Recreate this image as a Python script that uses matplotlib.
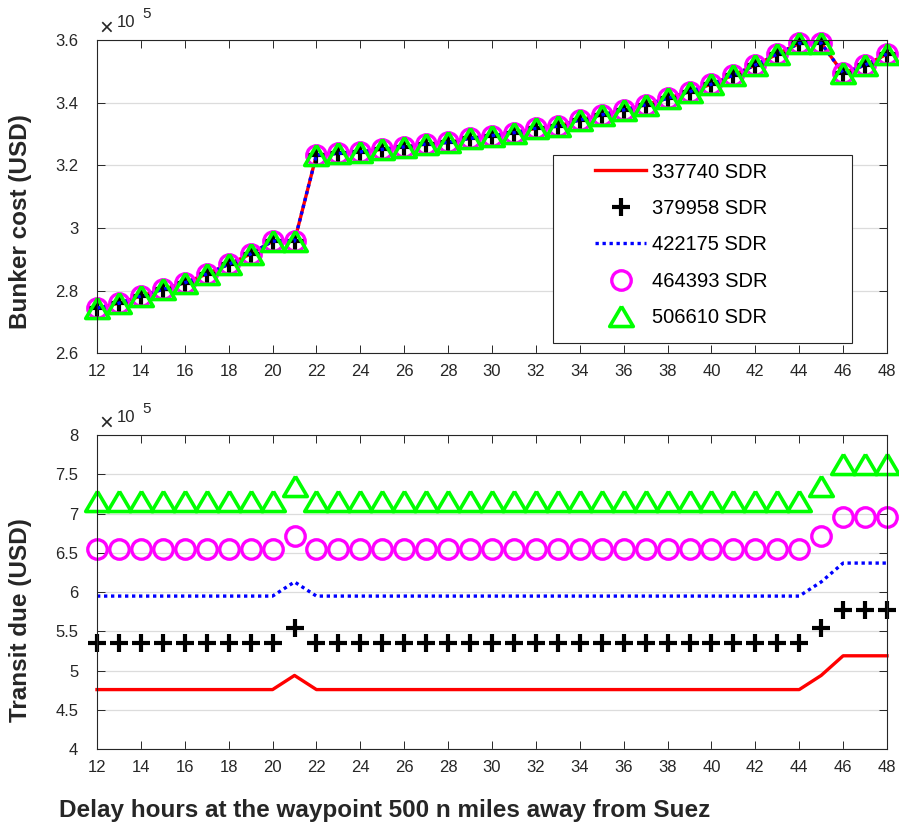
import matplotlib
matplotlib.use('Agg')
import matplotlib.pyplot as plt
from matplotlib.ticker import FuncFormatter
from matplotlib.patches import Rectangle

plt.rcParams['font.family'] = ['Liberation Sans', 'DejaVu Sans']

# ---------------- data (values in units of 1e5 USD) ----------------
hours = [12, 13, 14, 15, 16, 17, 18, 19, 20, 21, 22, 23, 24, 25, 26, 27, 28, 29, 30,
         31, 32, 33, 34, 35, 36, 37, 38, 39, 40, 41, 42, 43, 44, 45, 46, 47, 48]

series_labels = ['337740 SDR', '379958 SDR', '422175 SDR', '464393 SDR', '506610 SDR']

# Bunker cost (identical for all five SDR levels)
bunker = [2.744, 2.760, 2.783, 2.804, 2.825, 2.853, 2.884, 2.917, 2.958, 2.958,
          3.233, 3.238, 3.243, 3.251, 3.259, 3.268, 3.273, 3.286, 3.295, 3.304,
          3.318, 3.325, 3.345, 3.361, 3.377, 3.393, 3.414, 3.435, 3.459, 3.488,
          3.520, 3.555, 3.589, 3.590, 3.494, 3.520, 3.555]

transit_337740 = [4.76, 4.76, 4.76, 4.76, 4.76, 4.76, 4.76, 4.76, 4.76, 4.94,
                  4.76, 4.76, 4.76, 4.76, 4.76, 4.76, 4.76, 4.76, 4.76, 4.76,
                  4.76, 4.76, 4.76, 4.76, 4.76, 4.76, 4.76, 4.76, 4.76, 4.76,
                  4.76, 4.76, 4.76, 4.94, 5.19, 5.19, 5.19]
transit_379958 = [5.35, 5.35, 5.35, 5.35, 5.35, 5.35, 5.35, 5.35, 5.35, 5.54,
                  5.35, 5.35, 5.35, 5.35, 5.35, 5.35, 5.35, 5.35, 5.35, 5.35,
                  5.35, 5.35, 5.35, 5.35, 5.35, 5.35, 5.35, 5.35, 5.35, 5.35,
                  5.35, 5.35, 5.35, 5.54, 5.77, 5.77, 5.77]
transit_422175 = [5.95, 5.95, 5.95, 5.95, 5.95, 5.95, 5.95, 5.95, 5.95, 6.13,
                  5.95, 5.95, 5.95, 5.95, 5.95, 5.95, 5.95, 5.95, 5.95, 5.95,
                  5.95, 5.95, 5.95, 5.95, 5.95, 5.95, 5.95, 5.95, 5.95, 5.95,
                  5.95, 5.95, 5.95, 6.13, 6.37, 6.37, 6.37]
transit_464393 = [6.545, 6.545, 6.545, 6.545, 6.545, 6.545, 6.545, 6.545, 6.545, 6.715,
                  6.545, 6.545, 6.545, 6.545, 6.545, 6.545, 6.545, 6.545, 6.545, 6.545,
                  6.545, 6.545, 6.545, 6.545, 6.545, 6.545, 6.545, 6.545, 6.545, 6.545,
                  6.545, 6.545, 6.545, 6.715, 6.953, 6.953, 6.953]
transit_506610 = [7.16, 7.16, 7.16, 7.16, 7.16, 7.16, 7.16, 7.16, 7.16, 7.35,
                  7.16, 7.16, 7.16, 7.16, 7.16, 7.16, 7.16, 7.16, 7.16, 7.16,
                  7.16, 7.16, 7.16, 7.16, 7.16, 7.16, 7.16, 7.16, 7.16, 7.16,
                  7.16, 7.16, 7.16, 7.35, 7.625, 7.625, 7.625]

x_ticks = [12, 14, 16, 18, 20, 22, 24, 26, 28, 30, 32, 34, 36, 38, 40, 42, 44, 46, 48]
top_yticks = [2.6, 2.8, 3.0, 3.2, 3.4, 3.6]
bot_yticks = [4, 4.5, 5, 5.5, 6, 6.5, 7, 7.5, 8]

# ---------------- styles ----------------
W, H = 899, 825
DARK = '#262626'
TRI = [(0, 0.85), (-1, -0.85), (1, -0.85), (0, 0.85)]
styles = [
    dict(color='#ff0000', linestyle='-', linewidth=2.4, marker=None),
    dict(color='black', linestyle='none', marker='+', markersize=13, markeredgewidth=3.0),
    dict(color='#0000ff', linestyle=(0, (1, 1.1)), linewidth=2.4, marker=None),
    dict(color='#ff00ff', linestyle='none', marker='o', markersize=14, markeredgewidth=2.4,
         markerfacecolor='none'),
    dict(color='#00ff00', linestyle='none', marker=TRI, markersize=17, markeredgewidth=2.6,
         markerfacecolor='none'),
]

fig = plt.figure(figsize=(W / 100, H / 100), dpi=100)
fig.patch.set_facecolor('white')


def fx(px):
    return px / W


def fy(py):
    return 1 - py / H


ax1 = fig.add_axes([fx(97), fy(353.3), 790 / W, 313.3 / H])
ax2 = fig.add_axes([fx(97), fy(749.3), 790 / W, 314.3 / H])

transit = [transit_337740, transit_379958, transit_422175, transit_464393, transit_506610]

handles = []
for st, lab in zip(styles, series_labels):
    h, = ax1.plot(hours, bunker, label=lab, **st)
    handles.append(h)
for st, vals in zip(styles, transit):
    ax2.plot(hours, vals, **st)

fmt = FuncFormatter(lambda v, p: '%g' % round(v, 3))
for ax, yt, ylim in [(ax1, top_yticks, (2.6, 3.6)), (ax2, bot_yticks, (4, 8))]:
    ax.set_xlim(12, 48)
    ax.set_ylim(*ylim)
    ax.set_xticks(x_ticks)
    ax.set_yticks(yt)
    ax.yaxis.set_major_formatter(fmt)
    ax.tick_params(direction='in', length=5.8, width=0.7, top=True, right=True,
                   colors=DARK, labelsize=12)
    ax.tick_params(axis='y', pad=13.5)
    ax.tick_params(axis='x', pad=7.5)
    ax.grid(axis='y', color='#dcdcdc', linewidth=0.9)
    ax.set_axisbelow(True)
    for sp in ax.spines.values():
        sp.set_color(DARK)
        sp.set_linewidth(0.8)
    for h in ax.get_lines():
        h.set_clip_on(False)

# legend box (MATLAB-like, wider than contents)
rect = Rectangle((0.5768, 0.0329), 0.9553 - 0.5768, 0.6329 - 0.0329,
                 transform=ax1.transAxes, facecolor='white', edgecolor=DARK,
                 linewidth=0.8, zorder=6)
ax1.add_patch(rect)
leg = ax1.legend(handles=handles, loc='upper left', bbox_to_anchor=(fx(595), fy(162.5)),
                 bbox_transform=fig.transFigure, frameon=False, fontsize=14.5,
                 handlelength=2.55, handletextpad=0.28, labelspacing=0.865,
                 borderpad=0, borderaxespad=0)
leg.set_zorder(7)

# exponent labels
for top in (40, 435):
    fig.text(fx(106), fy(top - 11), '\u00d7', fontsize=17, color=DARK,
             ha='center', va='center')
    fig.text(fx(117), fy(top - 13), '10', fontsize=12, color=DARK, ha='left', va='baseline')
    fig.text(fx(142), fy(top - 22), '5', fontsize=11, color=DARK, ha='left', va='baseline')

# axis labels
fig.text(fx(21), fy(222), 'Bunker cost (USD)', rotation=90, fontsize=17.5,
         fontweight='bold', color=DARK, ha='center', va='center')
fig.text(fx(21), fy(620), 'Transit due (USD)', rotation=90, fontsize=17.5,
         fontweight='bold', color=DARK, ha='center', va='center')
fig.text(fx(384.5), fy(816.7), 'Delay hours at the waypoint 500 n miles away from Suez',
         fontsize=17.5, fontweight='bold', color=DARK, ha='center', va='baseline')

fig.savefig('out.png', dpi=100, facecolor='white')
